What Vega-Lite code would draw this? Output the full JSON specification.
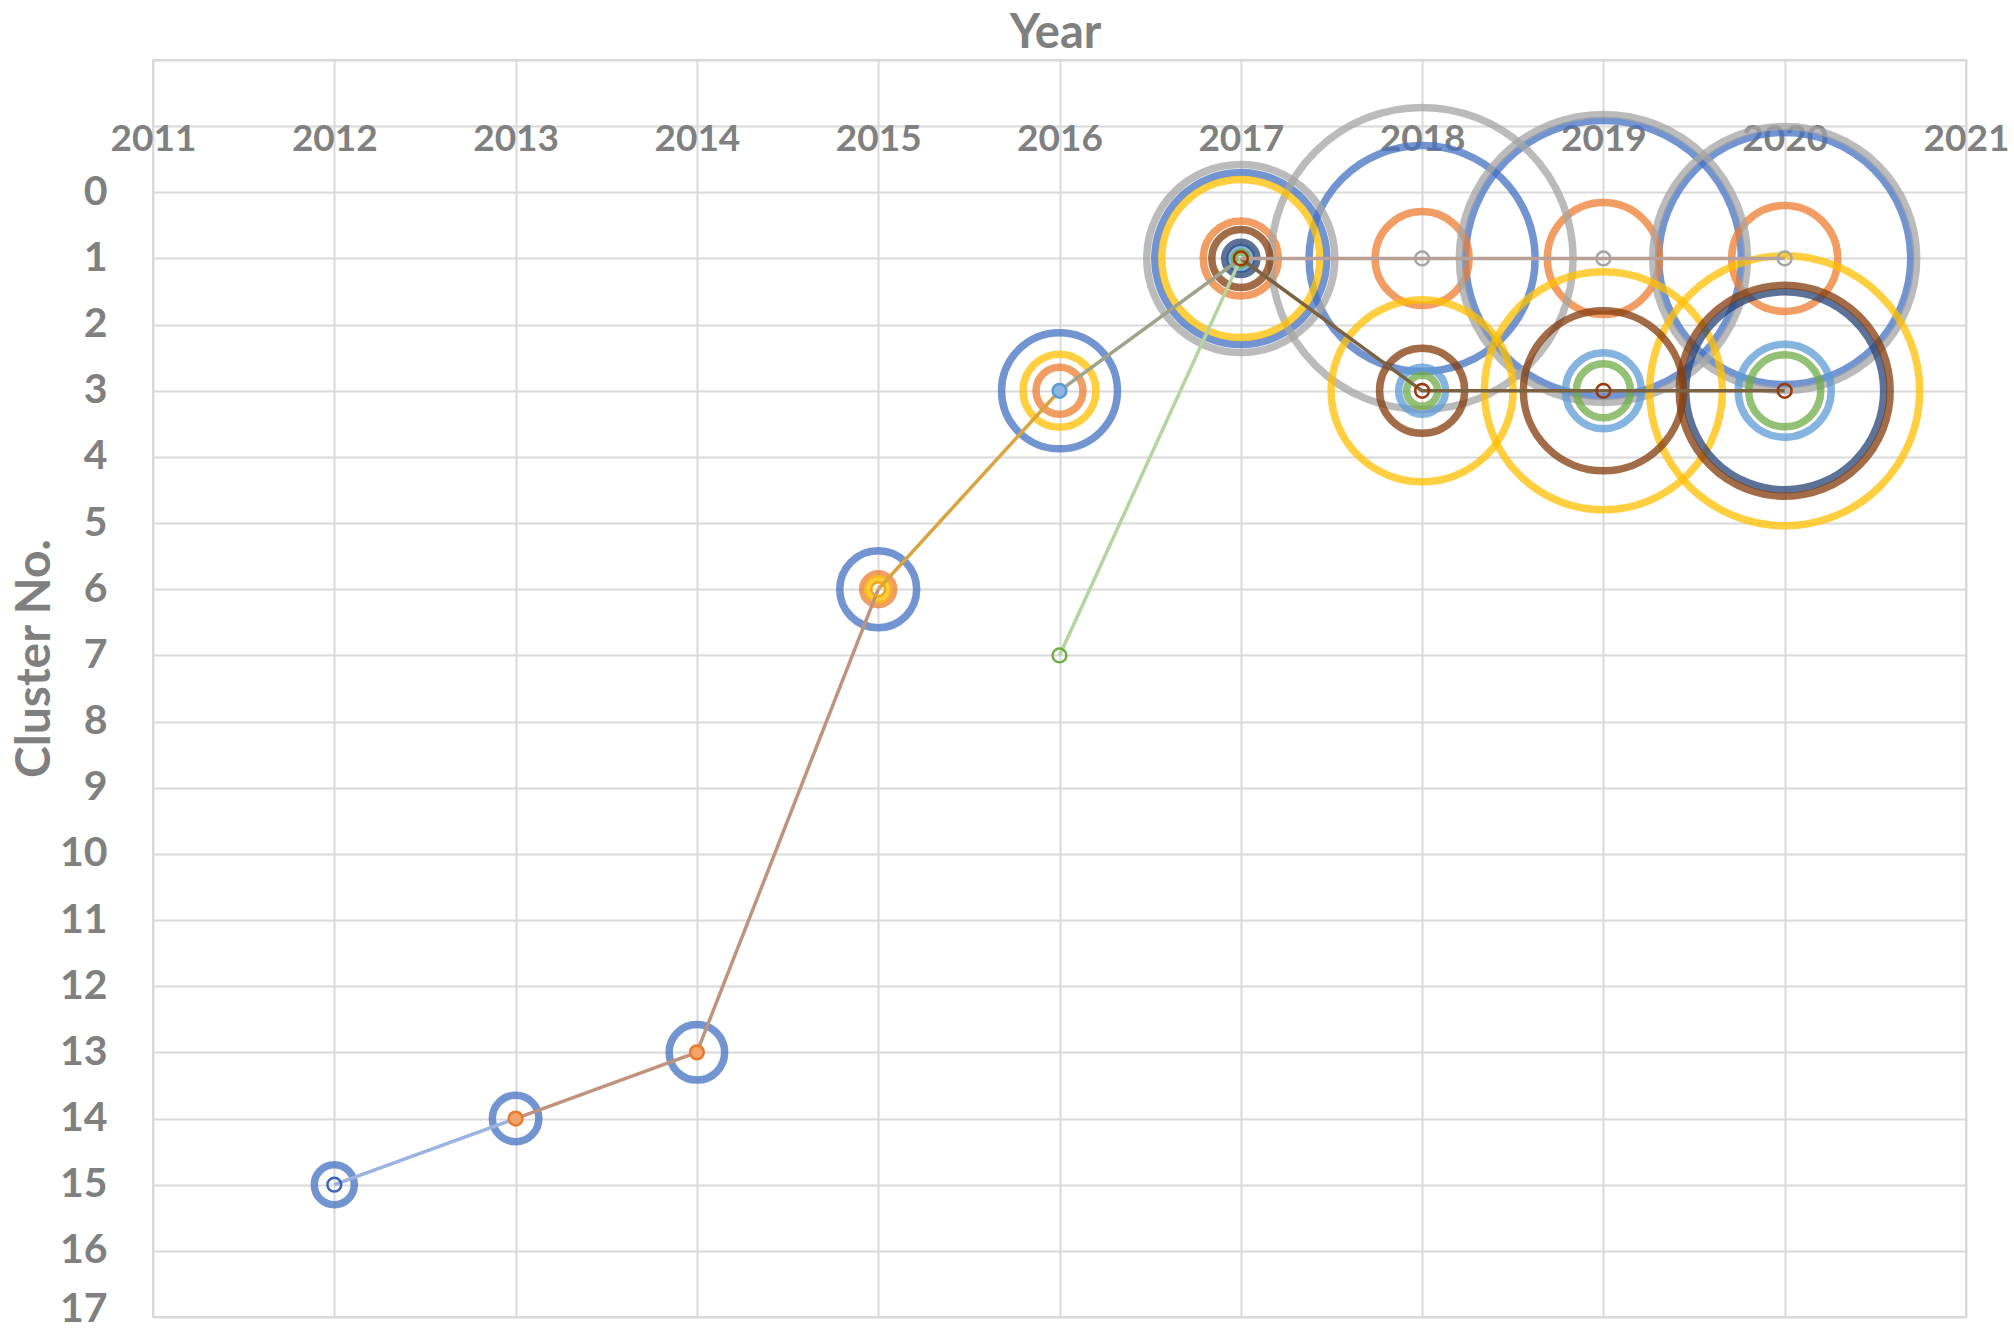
{
  "$schema": "https://vega.github.io/schema/vega-lite/v6.json",
  "width": 1813,
  "height": 1257,
  "autosize": {"type": "none"},
  "padding": {"left": 153, "top": 60, "right": 48, "bottom": 19},
  "background": "white",
  "config": {
    "view": {"stroke": "#d9d9d9", "strokeWidth": 2},
    "font": "Lato"
  },
  "datasets": {
    "rings": [
      {"series": "S1", "year": 2012, "cluster": 15, "v": 4.0},
      {"series": "S1", "year": 2013, "cluster": 14, "v": 5.4},
      {"series": "S1", "year": 2014, "cluster": 13, "v": 7.7},
      {"series": "S1", "year": 2015, "cluster": 6, "v": 14.8},
      {"series": "S1", "year": 2016, "cluster": 3, "v": 33.6},
      {"series": "S1", "year": 2017, "cluster": 1, "v": 74.0},
      {"series": "S1", "year": 2018, "cluster": 1, "v": 127.7},
      {"series": "S1", "year": 2019, "cluster": 1, "v": 190.4},
      {"series": "S1", "year": 2020, "cluster": 1, "v": 158.8},
      {"series": "S2", "year": 2015, "cluster": 6, "v": 2.4},
      {"series": "S2", "year": 2016, "cluster": 3, "v": 5.5},
      {"series": "S2", "year": 2017, "cluster": 1, "v": 14.1},
      {"series": "S2", "year": 2018, "cluster": 1, "v": 22.1},
      {"series": "S2", "year": 2019, "cluster": 1, "v": 31.4},
      {"series": "S2", "year": 2020, "cluster": 1, "v": 28.1},
      {"series": "S3", "year": 2017, "cluster": 1, "v": 88.4},
      {"series": "S3", "year": 2018, "cluster": 1, "v": 228.0},
      {"series": "S3", "year": 2019, "cluster": 1, "v": 207.4},
      {"series": "S3", "year": 2020, "cluster": 1, "v": 174.2},
      {"series": "S4", "year": 2015, "cluster": 6, "v": 1.1},
      {"series": "S4", "year": 2016, "cluster": 3, "v": 13.3},
      {"series": "S4", "year": 2017, "cluster": 1, "v": 62.4},
      {"series": "S4", "year": 2018, "cluster": 3, "v": 82.8},
      {"series": "S4", "year": 2019, "cluster": 3, "v": 141.6},
      {"series": "S4", "year": 2020, "cluster": 3, "v": 182.3},
      {"series": "S5", "year": 2017, "cluster": 1, "v": 1.2},
      {"series": "S5", "year": 2018, "cluster": 3, "v": 5.5},
      {"series": "S5", "year": 2019, "cluster": 3, "v": 14.4},
      {"series": "S5", "year": 2020, "cluster": 3, "v": 21.6},
      {"series": "S6", "year": 2017, "cluster": 1, "v": 0.42},
      {"series": "S6", "year": 2018, "cluster": 3, "v": 2.4},
      {"series": "S6", "year": 2019, "cluster": 3, "v": 7.3},
      {"series": "S6", "year": 2020, "cluster": 3, "v": 13.0},
      {"series": "S7", "year": 2017, "cluster": 1, "v": 2.6},
      {"series": "S7", "year": 2020, "cluster": 3, "v": 98.0},
      {"series": "S8", "year": 2017, "cluster": 1, "v": 8.4},
      {"series": "S8", "year": 2018, "cluster": 3, "v": 18.1},
      {"series": "S8", "year": 2019, "cluster": 3, "v": 64.0},
      {"series": "S8", "year": 2020, "cluster": 3, "v": 111.3}
    ],
    "lines": [
      {"path": "L1", "year": 2012, "cluster": 15},
      {"path": "L1", "year": 2013, "cluster": 14},
      {"path": "L2", "year": 2013, "cluster": 14},
      {"path": "L2", "year": 2014, "cluster": 13},
      {"path": "L2", "year": 2015, "cluster": 6},
      {"path": "L3", "year": 2015, "cluster": 6},
      {"path": "L3", "year": 2016, "cluster": 3},
      {"path": "L4", "year": 2016, "cluster": 3},
      {"path": "L4", "year": 2017, "cluster": 1},
      {"path": "L5", "year": 2016, "cluster": 7},
      {"path": "L5", "year": 2017, "cluster": 1},
      {"path": "L6", "year": 2017, "cluster": 1},
      {"path": "L6", "year": 2018, "cluster": 3},
      {"path": "L6", "year": 2019, "cluster": 3},
      {"path": "L6", "year": 2020, "cluster": 3},
      {"path": "L7", "year": 2017, "cluster": 1},
      {"path": "L7", "year": 2018, "cluster": 1},
      {"path": "L7", "year": 2019, "cluster": 1},
      {"path": "L7", "year": 2020, "cluster": 1}
    ],
    "markers": [
      {"mk": "blueHollow", "year": 2012, "cluster": 15},
      {"mk": "orangeFilled", "year": 2013, "cluster": 14},
      {"mk": "orangeFilled", "year": 2014, "cluster": 13},
      {"mk": "goldHollow", "year": 2015, "cluster": 6},
      {"mk": "lbFilled", "year": 2016, "cluster": 3},
      {"mk": "greenHollow", "year": 2016, "cluster": 7},
      {"mk": "grayHollow", "year": 2018, "cluster": 1},
      {"mk": "grayHollow", "year": 2019, "cluster": 1},
      {"mk": "grayHollow", "year": 2020, "cluster": 1},
      {"mk": "redHollow", "year": 2017, "cluster": 1},
      {"mk": "redHollow", "year": 2018, "cluster": 3},
      {"mk": "redHollow", "year": 2019, "cluster": 3},
      {"mk": "redHollow", "year": 2020, "cluster": 3}
    ]
  },
  "encoding": {
    "x": {
      "field": "year",
      "type": "quantitative",
      "scale": {"domain": [2011, 2021], "nice": false, "zero": false},
      "axis": {
        "orient": "top",
        "values": [2011, 2012, 2013, 2014, 2015, 2016, 2017, 2018, 2019, 2020, 2021],
        "format": "d",
        "title": "Year",
        "grid": true,
        "gridColor": "#d9d9d9",
        "gridWidth": 2,
        "domain": false,
        "ticks": false,
        "tickSize": 0,
        "labelPadding": -90,
        "labelBaseline": "alphabetic",
        "labelFont": "Lato",
        "labelFontSize": 37,
        "labelFontWeight": "bold",
        "labelColor": "#808080",
        "labelFlush": false,
        "labelOverlap": false,
        "labelBound": false,
        "titleFont": "Lato",
        "titleFontSize": 47,
        "titleFontWeight": "bold",
        "titleColor": "#808080",
        "titleX": 902,
        "titleY": -13,
        "titleBaseline": "alphabetic",
        "titleAlign": "center",
        "titleAngle": 0
      }
    },
    "y": {
      "field": "cluster",
      "type": "quantitative",
      "scale": {"domain": [-2, 17], "reverse": true, "nice": false, "zero": false},
      "axis": {
        "orient": "left",
        "values": [-2, -1, 0, 1, 2, 3, 4, 5, 6, 7, 8, 9, 10, 11, 12, 13, 14, 15, 16, 17],
        "labelExpr": "datum.value < 0 ? '' : datum.label",
        "title": "Cluster No.",
        "grid": true,
        "gridColor": "#d9d9d9",
        "gridWidth": 2,
        "domain": false,
        "ticks": false,
        "tickSize": 0,
        "labelPadding": 46,
        "labelOffset": {"condition": {"test": "datum.value == 17", "value": -8}, "value": 0},
        "labelFont": "Lato",
        "labelFontSize": 41,
        "labelFontWeight": "bold",
        "labelColor": "#808080",
        "labelFlush": false,
        "labelOverlap": false,
        "labelBound": false,
        "titleFont": "Lato",
        "titleFontSize": 48,
        "titleFontWeight": "bold",
        "titleColor": "#808080",
        "titleX": -104,
        "titleY": 598,
        "titleAngle": -90,
        "titleBaseline": "alphabetic",
        "titleAlign": "center"
      }
    }
  },
  "layer": [
    {
      "data": {"name": "rings"},
      "mark": {"type": "point", "shape": "circle", "filled": false, "strokeWidth": 7.5, "opacity": 0.75},
      "encoding": {
        "size": {
          "field": "v",
          "type": "quantitative",
          "scale": {"type": "linear", "domain": [0, 100], "range": [0, 40000], "zero": true},
          "legend": null
        },
        "stroke": {
          "field": "series",
          "type": "nominal",
          "scale": {
            "domain": ["S1", "S2", "S3", "S4", "S5", "S6", "S7", "S8"],
            "range": ["#4472C4", "#ED7D31", "#A5A5A5", "#FFC000", "#5B9BD5", "#70AD47", "#264478", "#843C0C"]
          },
          "legend": null
        }
      }
    },
    {
      "data": {"name": "lines"},
      "mark": {"type": "line", "strokeWidth": 3.5},
      "encoding": {
        "stroke": {
          "field": "path",
          "type": "nominal",
          "scale": {
            "domain": ["L1", "L2", "L3", "L4", "L5", "L6", "L7"],
            "range": ["#9AB3E0", "#C0937E", "#DAA43F", "#A0A38C", "#B4D4A0", "#7B6242", "#B89F98"]
          },
          "legend": null
        },
        "order": {"field": "year", "type": "quantitative"}
      }
    },
    {
      "data": {"name": "markers"},
      "mark": {"type": "point", "shape": "circle", "filled": true, "size": 190, "strokeWidth": 2.5, "opacity": 1},
      "encoding": {
        "fill": {
          "field": "mk",
          "type": "nominal",
          "scale": {
            "domain": ["blueHollow", "orangeFilled", "goldHollow", "lbFilled", "greenHollow", "grayHollow", "redHollow"],
            "range": ["rgba(0,0,0,0)", "#F2A46B", "rgba(0,0,0,0)", "#8DB5DF", "rgba(0,0,0,0)", "rgba(0,0,0,0)", "rgba(0,0,0,0)"]
          },
          "legend": null
        },
        "stroke": {
          "field": "mk",
          "type": "nominal",
          "scale": {
            "domain": ["blueHollow", "orangeFilled", "goldHollow", "lbFilled", "greenHollow", "grayHollow", "redHollow"],
            "range": ["#3D64B8", "#E97A2F", "#F0A818", "#5B9BD5", "#70AD47", "#A5A5A5", "#9A3A0A"]
          },
          "legend": null
        }
      }
    }
  ],
  "resolve": {"scale": {"stroke": "independent", "fill": "independent", "size": "independent"}}
}
